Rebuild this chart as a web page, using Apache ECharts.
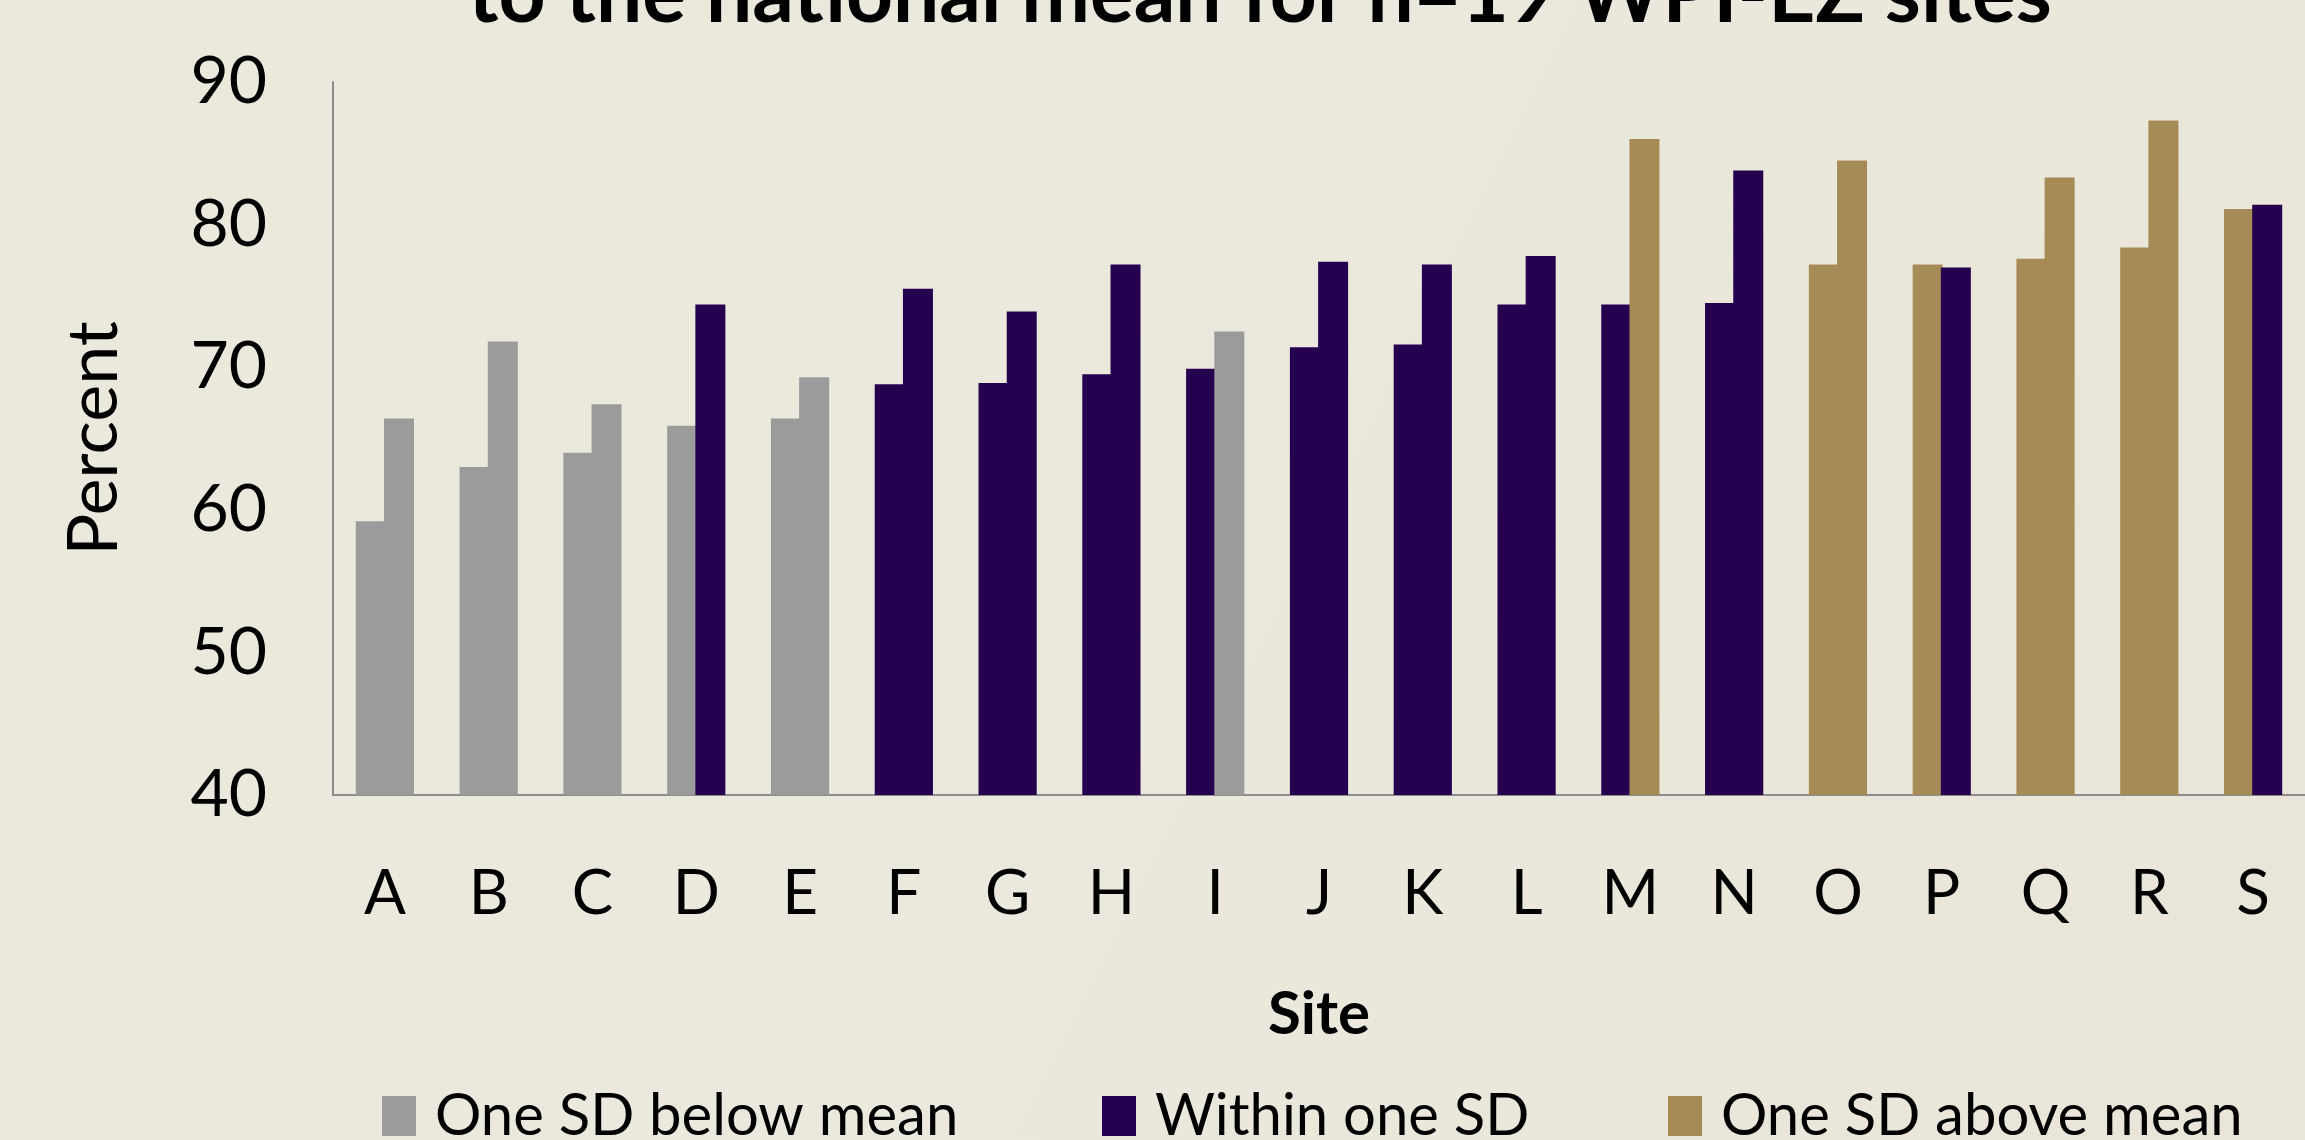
<!DOCTYPE html>
<html>
<head>
<meta charset="utf-8">
<script src="https://cdn.jsdelivr.net/npm/echarts@6/dist/echarts.min.js"></script>
<style>
  html, body { margin: 0; padding: 0; }
  #chart { width: 2305px; height: 1140px; }
</style>
</head>
<body>
<div id="chart"></div>
<script>
// sites and the two percentages shown for each (left bar, right bar)
const sites = ['A', 'B', 'C', 'D', 'E', 'F', 'G', 'H', 'I', 'J', 'K', 'L', 'M', 'N', 'O', 'P', 'Q', 'R', 'S']
const firstValues = [59.2, 63.0, 64.0, 65.9, 66.4, 68.8, 68.9, 69.5, 69.9, 71.4, 71.6, 74.4, 74.4, 74.5, 77.2, 77.2, 77.6, 78.4, 81.1]
const secondValues = [66.4, 71.8, 67.4, 74.4, 69.3, 75.5, 73.9, 77.2, 72.5, 77.4, 77.2, 77.8, 86.0, 83.8, 84.5, 77.0, 83.3, 87.3, 81.4]
// 0 = one SD below, 1 = within one SD, 2 = one SD above
const firstGroup = [0, 0, 0, 0, 0, 1, 1, 1, 1, 1, 1, 1, 1, 1, 2, 2, 2, 2, 2]
const secondGroup = [0, 0, 0, 1, 0, 1, 1, 1, 0, 1, 1, 1, 2, 1, 2, 1, 2, 2, 1]
const groupNames = ['One SD below mean', 'Within one SD', 'One SD above mean']
const groupColors = ['#9b9b9b', '#25004f', '#a68b57']
const legendLeft = [382, 1102, 1668]

const font = 'Lato, "Open Sans", sans-serif'

function buildSeries(values, groups, stack) {
  return groupNames.map((name, g) => ({
    name,
    type: 'bar',
    stack,
    barWidth: 30,
    barGap: '-6%', // slight overlap so the two bars of a site touch with no hairline
    itemStyle: { color: groupColors[g] },
    data: values.map((v, i) => (groups[i] === g ? v : '-')),
  }))
}

const chart = echarts.init(document.getElementById('chart'))
chart.setOption({
  backgroundColor: {
    type: 'linear', x: 0, y: 0, x2: 1, y2: 1,
    colorStops: [
      { offset: 0, color: '#ebe8dc' },
      { offset: 0.5, color: '#ebe8dd' },
      { offset: 1, color: '#e9e5d8' },
    ],
  },
  animation: false,
  title: {
    text: 'to the national mean for n=19 WPI-EZ sites',
    left: 1255, textAlign: 'center', top: -50,
    textStyle: { fontFamily: font, fontSize: 82, fontWeight: 'bold', color: '#000' },
  },
  // one legend per entry so each can sit where the original puts it
  legend: groupNames.map((name, g) => ({
    data: [name],
    left: legendLeft[g], top: 1087, padding: 0,
    itemWidth: 34, itemHeight: 40,
    icon: 'rect',
    textStyle: { fontFamily: font, fontSize: 58, color: '#000', padding: [0, 0, 0, 14] },
  })),
  grid: { left: 333, right: -4, top: 82, bottom: 345, containLabel: false },
  xAxis: {
    type: 'category',
    data: sites,
    name: 'Site',
    nameLocation: 'middle',
    nameGap: 190,
    nameTextStyle: { fontFamily: font, fontSize: 60, fontWeight: 'bold', color: '#000' },
    axisLine: { lineStyle: { color: '#8c8c8c', width: 2 } },
    axisTick: { show: false },
    axisLabel: { fontFamily: font, fontSize: 62, color: '#000', margin: 68 },
  },
  yAxis: {
    type: 'value',
    min: 40, max: 90, interval: 10,
    name: 'Percent',
    nameLocation: 'middle',
    nameGap: 204,
    nameTextStyle: { fontFamily: font, fontSize: 70, color: '#000' },
    axisLine: { show: true, lineStyle: { color: '#8c8c8c', width: 2 } },
    axisTick: { show: false },
    splitLine: { show: false },
    axisLabel: { fontFamily: font, fontSize: 66, color: '#000', margin: 66 },
  },
  series: [
    ...buildSeries(firstValues, firstGroup, 'first'),
    ...buildSeries(secondValues, secondGroup, 'second'),
  ],
})
</script>
</body>
</html>
